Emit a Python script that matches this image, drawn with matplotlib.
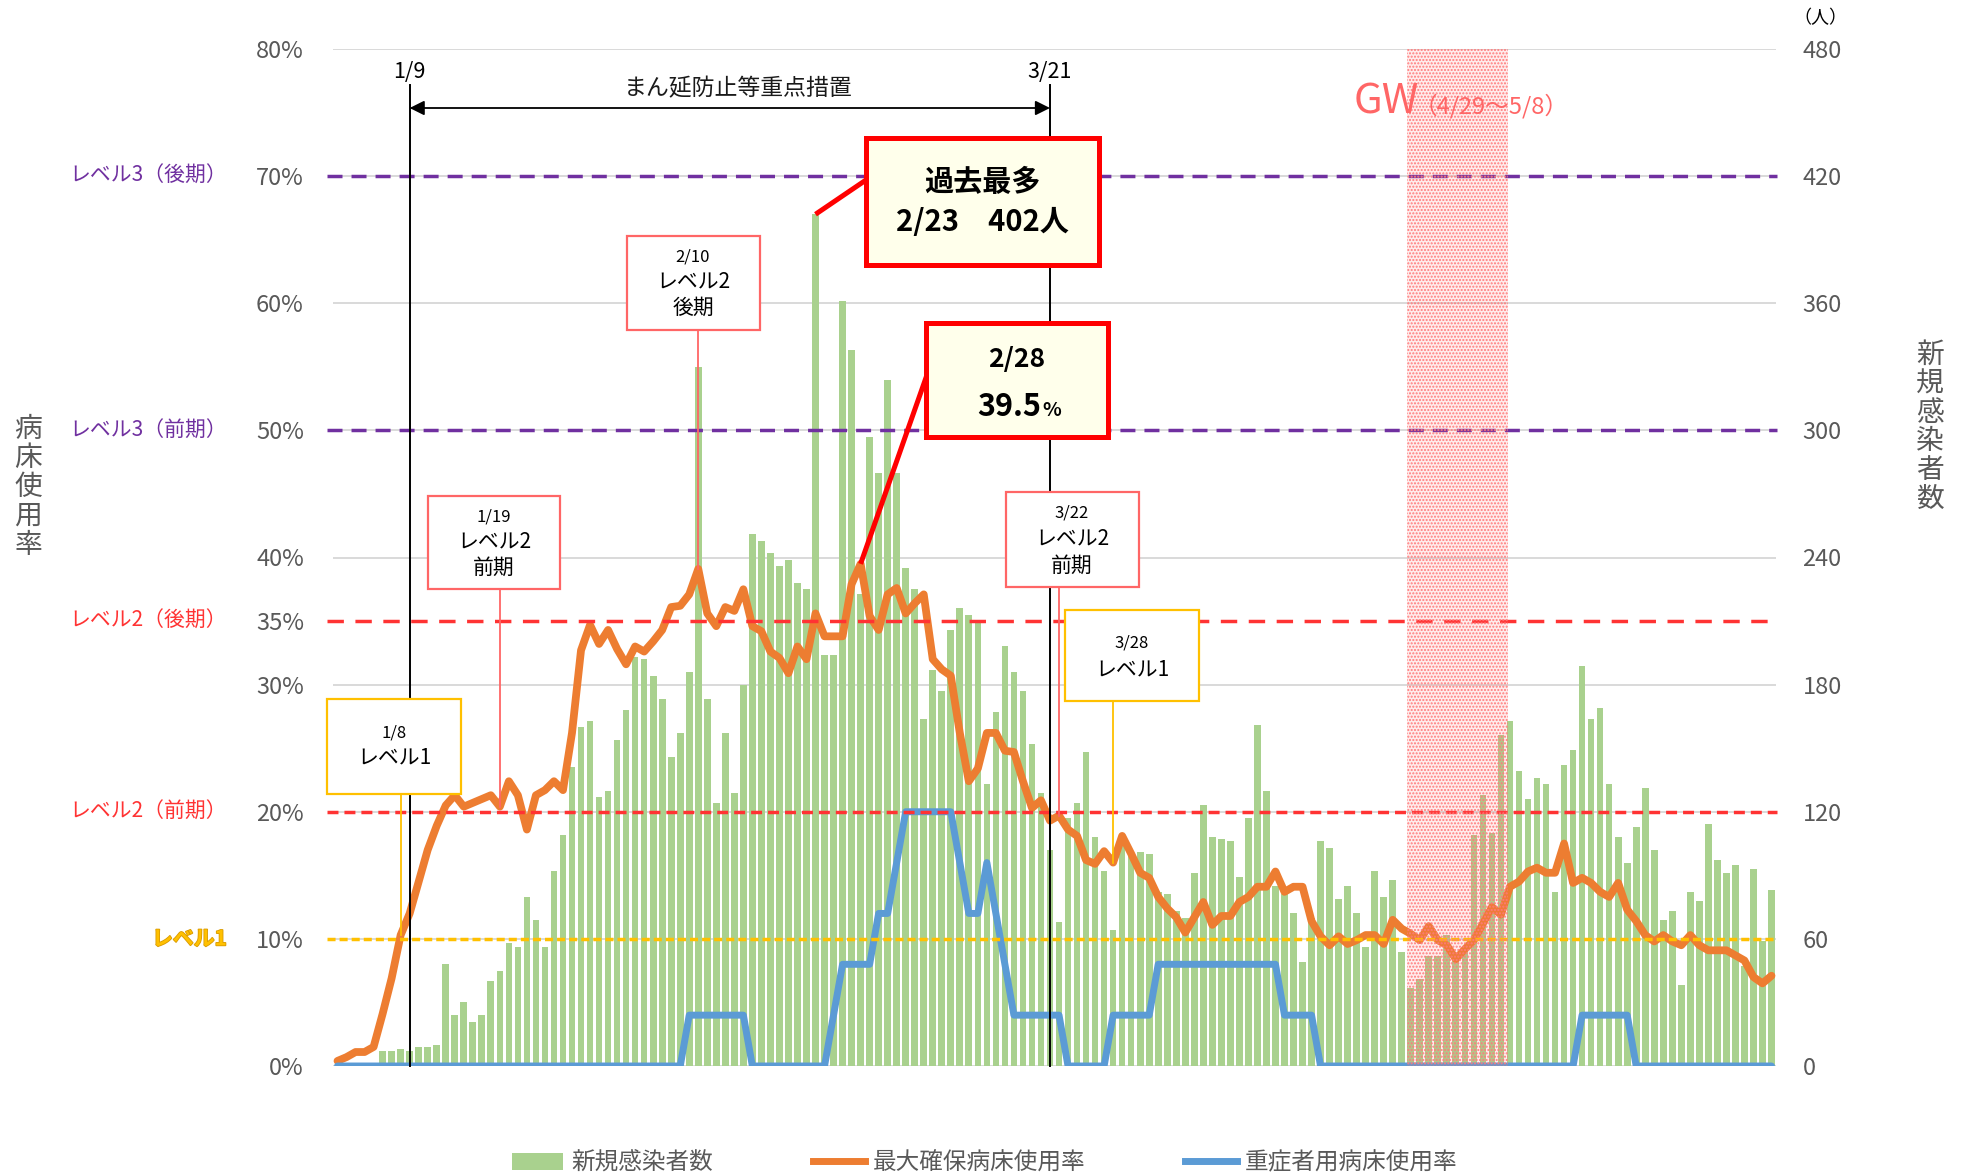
import matplotlib
matplotlib.use('Agg')
import matplotlib.pyplot as plt
from matplotlib.patches import Rectangle, Patch
from matplotlib.lines import Line2D
import matplotlib.patheffects as pe
import pandas as pd

plt.rcParams['font.family'] = ['Noto Sans CJK JP', 'DejaVu Sans']
plt.rcParams['lines.scale_dashes'] = False

# ---------------- data ----------------
dates = pd.date_range('2022-01-01', '2022-06-09', freq='D')

new_cases = [
    # Jan
    0, 0, 0, 0, 0, 7, 7, 8, 7, 9, 9, 10, 48, 24, 30, 21, 24, 40, 45, 58, 56, 80, 69, 56, 92, 109, 141, 160, 163, 127, 130,
    # Feb
    154, 168, 193, 192, 184, 173, 146, 157, 186, 330, 173, 124, 157, 129, 180, 251, 248, 242, 236, 239, 228, 225, 402, 194, 194, 361, 338, 223,
    # Mar
    297, 280, 324, 280, 235, 225, 164, 187, 177, 206, 216, 213, 210, 133, 167, 198, 186, 177, 152, 129, 102, 68, 117, 124, 148, 108, 92, 64, 108, 101, 101,
    # Apr
    100, 82, 81, 73, 70, 91, 123, 108, 107, 106, 89, 117, 161, 130, 85, 81, 72, 49, 70, 106, 103, 79, 85, 72, 56, 92, 80, 88, 54, 37,
    # May
    41, 52, 52, 62, 50, 56, 109, 128, 110, 156, 163, 139, 126, 136, 133, 82, 142, 149, 189, 164, 169, 133, 108, 96, 113, 131, 102, 69, 73, 38, 82,
    # Jun
    78, 114, 97, 91, 95, 47, 93, 59, 83,
]

bed_rate = [
    # Jan
    0.4, 0.7, 1.1, 1.1, 1.5, 4.1, 6.9, 10.3, 12.0, 14.5, 17.0, 18.9, 20.5, 21.3, 20.4, 20.7, 21.0, 21.3, 20.4, 22.4, 21.3, 18.6, 21.3, 21.7, 22.4, 21.7, 26.2, 32.7, 34.7, 33.2, 34.3,
    # Feb
    32.8, 31.6, 33.0, 32.6, 33.4, 34.3, 36.1, 36.2, 37.1, 39.1, 35.6, 34.6, 36.1, 35.8, 37.5, 34.6, 34.2, 32.6, 32.1, 30.9, 33.0, 32.0, 35.6, 33.8, 33.8, 33.8, 37.9, 39.5,
    # Mar
    35.4, 34.3, 37.1, 37.6, 35.6, 36.4, 37.1, 32.0, 31.2, 30.7, 26.2, 22.4, 23.4, 26.2, 26.2, 24.8, 24.7, 22.4, 20.3, 20.9, 19.3, 19.7, 18.6, 18.1, 16.2, 15.9, 16.9, 16.0, 18.1, 16.7, 15.2,
    # Apr
    14.8, 13.3, 12.4, 11.7, 10.5, 11.7, 12.9, 11.1, 11.8, 11.8, 12.9, 13.3, 14.1, 14.1, 15.3, 13.7, 14.1, 14.1, 11.4, 10.2, 9.5, 10.2, 9.6, 9.9, 10.3, 10.3, 9.6, 11.5, 10.8, 10.4,
    # May
    9.9, 11.0, 9.9, 9.5, 8.4, 9.2, 9.9, 11.2, 12.5, 11.9, 14.1, 14.5, 15.3, 15.6, 15.2, 15.2, 17.5, 14.4, 14.8, 14.4, 13.7, 13.3, 14.4, 12.3, 11.4, 10.3, 9.8, 10.3, 9.8, 9.5, 10.3,
    # Jun
    9.5, 9.1, 9.1, 9.1, 8.7, 8.3, 7.0, 6.5, 7.1,
]

severe_rate = [
    # Jan
    0, 0, 0, 0, 0, 0, 0, 0, 0, 0, 0, 0, 0, 0, 0, 0, 0, 0, 0, 0, 0, 0, 0, 0, 0, 0, 0, 0, 0, 0, 0,
    # Feb
    0, 0, 0, 0, 0, 0, 0, 0, 4, 4, 4, 4, 4, 4, 4, 0, 0, 0, 0, 0, 0, 0, 0, 0, 4, 8, 8, 8,
    # Mar
    8, 12, 12, 16, 20, 20, 20, 20, 20, 20, 16, 12, 12, 16, 12, 8, 4, 4, 4, 4, 4, 4, 0, 0, 0, 0, 0, 4, 4, 4, 4,
    # Apr
    4, 8, 8, 8, 8, 8, 8, 8, 8, 8, 8, 8, 8, 8, 8, 4, 4, 4, 4, 0, 0, 0, 0, 0, 0, 0, 0, 0, 0, 0,
    # May
    0, 0, 0, 0, 0, 0, 0, 0, 0, 0, 0, 0, 0, 0, 0, 0, 0, 0, 4, 4, 4, 4, 4, 4, 0, 0, 0, 0, 0, 0, 0,
    # Jun
    0, 0, 0, 0, 0, 0, 0, 0, 0,
]

level_values = [70, 50, 35, 20, 10]
level_names = ['レベル3（後期）', 'レベル3（前期）', 'レベル2（後期）', 'レベル2（前期）', 'レベル1']
pct_ticks = [0, 10, 20, 30, 35, 40, 50, 60, 70, 80]
people_ticks = [0, 60, 120, 180, 240, 300, 360, 420, 480]

legend_labels = ['新規感染者数', '最大確保病床使用率', '重症者用病床使用率']

# ---------------- layout ----------------
W, H = 1969, 1176
AX_L, AX_R, AX_T, AX_B = 333, 1776, 49, 1066
N = len(dates)
x = list(range(N))

fig = plt.figure(figsize=(W / 100, H / 100), dpi=100)
ax2 = fig.add_axes([AX_L / W, 1 - AX_B / H, (AX_R - AX_L) / W, (AX_B - AX_T) / H])
ax = ax2.twinx()
ax.set_zorder(ax2.get_zorder() + 1)
ax.patch.set_visible(False)

GRAY = '#595959'
GRID = '#D9D9D9'


def fx(px):
    return px / W


def fy(py):
    return 1 - py / H


def dx(px):
    return -0.5 + (px - AX_L) / (AX_R - AX_L) * N


def dy(py):
    return (AX_B - py) / (AX_B - AX_T) * 80


# grid + bars on people axis
for v in people_ticks:
    ax2.axhline(v, color=GRID, lw=1.4, zorder=0)
ax2.bar(x, new_cases, width=0.74, color='#A9D18E', zorder=2)
ax2.set_ylim(0, 480)
ax2.set_xlim(-0.5, N - 0.5)

# percent axis (lines)
ax.set_ylim(0, 80)
ax.set_xlim(-0.5, N - 0.5)
ax.plot(x, bed_rate, color='#ED7D31', lw=5.6, solid_joinstyle='round', solid_capstyle='round', zorder=3)
ax.plot(x, severe_rate, color='#5B9BD5', lw=5.0, solid_joinstyle='round', solid_capstyle='round', zorder=3.5)

# level lines
level_colors = ['#7030A0', '#7030A0', '#FF3333', '#FF3333', '#FFC000']
level_dash = [(10.8, 6.5), (10.8, 6.5), (11.8, 8.3), (7.9, 4.3), (5.8, 2.9)]
for v, c, d in zip(level_values, level_colors, level_dash):
    ax.plot([dx(327), dx(1777)], [v, v], color=c, lw=2.5, dashes=d, zorder=4, clip_on=False)

for v, name, c in zip(level_values, level_names, level_colors):
    kw = {}
    if name == 'レベル1':
        kw = dict(fontweight='bold', path_effects=[pe.withStroke(linewidth=1.2, foreground='#D99A00')])
    fig.text(fx(227), fy(AX_B - v / 80 * (AX_B - AX_T)), name, ha='right', va='center',
             fontsize=15, color=c, **kw)

# ticks
month_idx = [i for i, d in enumerate(dates) if d.day == 1]
month_lbl = [f'{dates[i].month}/1' for i in month_idx]
ax.set_xticks([i - 0.5 for i in month_idx])
ax.set_xticklabels(month_lbl)
ax.tick_params(axis='x', colors='#BFBFBF', length=5, width=1.2, pad=13, labelcolor=GRAY, labelsize=17)
ax2.tick_params(axis='x', length=0, labelbottom=False)

ax.yaxis.tick_left()
ax.set_yticks(pct_ticks)
ax.set_yticklabels([f'{v}%' for v in pct_ticks])
ax.tick_params(axis='y', length=0, pad=21, labelcolor=GRAY, labelsize=17)
ax2.yaxis.tick_right()
ax2.set_yticks(people_ticks)
ax2.set_yticklabels([str(v) for v in people_ticks])
ax2.tick_params(axis='y', length=0, pad=19, labelcolor=GRAY, labelsize=17)
for a in (ax, ax2):
    for s in a.spines.values():
        s.set_visible(False)

# GW shading
gw0, gw1 = dx(1407), dx(1508)
ax.axvspan(gw0, gw1, ymin=0, ymax=1, facecolor=(1, 0.45, 0.45, 0.13), lw=0, zorder=6)
ax.axvspan(gw0, gw1, ymin=0, ymax=1, facecolor='none', edgecolor='#FF7A7A', hatch='.....', lw=0, zorder=6)
fig.text(fx(1354), fy(113), 'GW', fontsize=30, color='#FF6666', ha='left', va='baseline')
fig.text(fx(1414), fy(113), '（4/29～5/8）', fontsize=17, color='#FF6666', ha='left', va='baseline')

# measure period lines
i_start = list(dates).index(pd.Timestamp('2022-01-09'))
i_end = list(dates).index(pd.Timestamp('2022-03-21'))
for i in (i_start, i_end):
    ax.plot([i, i], [0, dy(85)], color='black', lw=1.4, zorder=4.5, clip_on=False)
ax.text(i_start, dy(72), '1/9', ha='center', va='center', fontsize=15.5, color='black')
ax.text(i_end, dy(72), '3/21', ha='center', va='center', fontsize=15.5, color='black')
ax.annotate('', xy=(i_end, dy(108)), xytext=(i_start, dy(108)),
            arrowprops=dict(arrowstyle='<|-|>', color='black', lw=1.3, mutation_scale=22,
                            shrinkA=0, shrinkB=0), annotation_clip=False)
fig.text(fx(738), fy(89), 'まん延防止等重点措置', ha='center', va='center', fontsize=16.5, color='#1a1a1a')


# annotation boxes
def box(x0, y0, x1, y1, ec, lw, fc='white'):
    fig.add_artist(Rectangle((fx(x0), fy(y1)), (x1 - x0) / W, (y1 - y0) / H, transform=fig.transFigure,
                             facecolor=fc, edgecolor=ec, lw=lw, zorder=10))


def ftxt(px, py, s, size, **kw):
    fig.text(fx(px), fy(py), s, ha=kw.pop('ha', 'center'), va=kw.pop('va', 'center'), fontsize=size,
             zorder=11, **kw)


YEL = '#FFC000'
SAL = '#FF6666'


def pointer(date_str, y_box_bottom, color):
    i = list(dates).index(pd.Timestamp(date_str))
    ax.plot([i, i], [dy(y_box_bottom), bed_rate[i]], color=color, lw=1.3, zorder=4.6, clip_on=False)


# 1/8 level1
box(327, 699, 461, 794, YEL, 1.6)
ftxt(394, 733, '1/8', 12)
ftxt(394, 758, 'レベル1', 15)
pointer('2022-01-08', 794, YEL)
# 1/19 level2 early
box(428, 496, 560, 589, SAL, 1.6)
ftxt(494, 517, '1/19', 12)
ftxt(494, 542, 'レベル2', 15)
ftxt(494, 568, '前期', 15)
pointer('2022-01-19', 589, SAL)
# 2/10 level2 late
box(627, 236, 760, 330, SAL, 1.6)
ftxt(693, 257, '2/10', 12)
ftxt(693, 282, 'レベル2', 15)
ftxt(693, 308, '後期', 15)
pointer('2022-02-10', 330, SAL)
# 3/22 level2 early
box(1006, 492, 1139, 587, SAL, 1.6)
ftxt(1072, 513, '3/22', 12)
ftxt(1072, 539, 'レベル2', 15)
ftxt(1072, 566, '前期', 15)
pointer('2022-03-22', 587, SAL)
# 3/28 level1
box(1065, 610, 1199, 701, YEL, 1.6)
ftxt(1132, 643, '3/28', 12)
ftxt(1132, 669, 'レベル1', 15)
pointer('2022-03-28', 701, YEL)

# record box
i_max = new_cases.index(max(new_cases))
ax.plot([dx(866), i_max], [dy(180), new_cases[i_max] / 6.0], color='#FF0000', lw=3.6, zorder=4.7,
        clip_on=False, solid_capstyle='butt')
box(866, 138, 1099, 265, '#FF0000', 3.6, fc='#FFFFEB')
ftxt(982, 182, '過去最多', 21, fontweight='bold', color='black')
ftxt(982, 222, f'{dates[i_max].month}/{dates[i_max].day}\u3000{max(new_cases)}人', 21, fontweight='bold',
     color='black')

# 2/28 box
i_228 = list(dates).index(pd.Timestamp('2022-02-28'))
ax.plot([dx(928), i_228], [dy(372), bed_rate[i_228]], color='#FF0000', lw=3.6, zorder=4.7,
        clip_on=False, solid_capstyle='butt')
box(926, 323, 1108, 437, '#FF0000', 3.6, fc='#FFFFEB')
ftxt(1017, 359, '2/28', 19, fontweight='bold', color='black')
ftxt(1041, 416, f'{bed_rate[i_228]}', 22, fontweight='bold', color='black', ha='right', va='baseline')
ftxt(1042, 416, '%', 14, fontweight='bold', color='black', ha='left', va='baseline')

# axis titles
fig.text(fx(28), fy(487), '\n'.join('病床使用率'), ha='center', va='center', fontsize=20,
         linespacing=0.95, color=GRAY)
fig.text(fx(1930), fy(427), '\n'.join('新規感染者数'), ha='center', va='center', fontsize=20,
         linespacing=0.95, color=GRAY)
fig.text(fx(1820), fy(18), '（人）', ha='center', va='center', fontsize=13, color='black')

# legend
handles = [Patch(facecolor='#A9D18E', edgecolor='none'),
           Line2D([0], [0], color='#ED7D31', lw=5),
           Line2D([0], [0], color='#5B9BD5', lw=5)]
fig.legend(handles, legend_labels, loc='center', bbox_to_anchor=(0.5, 1 - 1163 / H), ncol=3,
           frameon=False, fontsize=17, handlelength=2.2, handletextpad=0.35, columnspacing=4.2,
           labelcolor=GRAY)

fig.savefig('out.png', dpi=100)
